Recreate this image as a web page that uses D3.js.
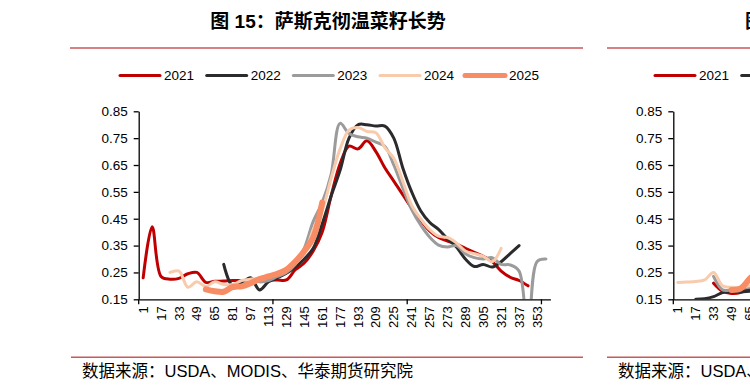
<!DOCTYPE html>
<html>
<head>
<meta charset="utf-8">
<script src="https://cdn.jsdelivr.net/npm/d3@7/dist/d3.min.js"></script>
<style>
  html, body { margin: 0; padding: 0; background: #fff; }
  svg { display: block; }
  text { font-family: "Liberation Sans", Arial, "Noto Sans CJK SC", sans-serif; fill: #000; }
  .cjk { font-family: "Liberation Sans", Arial, "Noto Sans CJK SC", sans-serif; }
</style>
</head>
<body>
<svg id="chart" width="750" height="390"></svg>
<script>
// ---------- data ----------
const days = [1,9,17,25,33,41,49,57,65,73,81,89,97,105,113,121,129,137,145,153,161,169,177,185,193,201,209,217,225,233,241,249,257,265,273,281,289,297,305,313,321,329,337,345,353,361];
const xTickLabels = [1,17,33,49,65,81,97,113,129,145,161,177,193,209,225,241,257,273,289,305,321,337,353];
const yTicks = [0.15,0.25,0.35,0.45,0.55,0.65,0.75,0.85];
const seriesNames = ["2021","2022","2023","2024","2025"];
const seriesColors = ["#C00000","#2B2B2E","#9B9B9B","#F8CBAD","#F88C64"];
const seriesWidths = [3,3,3,3,6];

const s2021 = [0.23,0.42,0.235,0.225,0.228,0.245,0.25,0.213,0.217,0.218,0.22,0.22,0.22,0.22,0.222,0.222,0.222,0.26,0.285,0.33,0.40,0.535,0.655,0.72,0.71,0.74,0.70,0.64,0.59,0.54,0.49,0.445,0.405,0.38,0.367,0.355,0.34,0.325,0.31,0.29,0.255,0.232,0.22,0.20,null,null];
const s2022 = [null,null,null,null,null,null,null,null,null,0.28,0.20,0.21,0.23,0.185,0.215,0.23,0.247,0.27,0.30,0.34,0.43,0.535,0.63,0.75,0.80,0.80,0.795,0.795,0.75,0.64,0.55,0.48,0.437,0.41,0.375,0.345,0.30,0.272,0.28,0.27,0.29,0.32,0.35,null,null,null];
const s2023 = [null,null,null,null,null,null,null,null,null,null,0.19,0.20,0.225,0.215,0.22,0.235,0.25,0.28,0.34,0.44,0.51,0.615,0.805,0.767,0.755,0.75,0.735,0.72,0.65,0.565,0.484,0.427,0.382,0.352,0.345,0.35,0.32,0.305,0.30,0.305,0.28,0.278,0.255,0.0,0.29,0.30];
const s2024 = [null,null,null,0.25,0.255,0.195,0.215,0.198,0.215,0.205,0.205,0.22,0.225,0.228,0.235,0.245,0.26,0.285,0.32,0.41,0.48,0.60,0.71,0.78,0.79,0.775,0.77,0.715,0.675,0.59,0.50,0.45,0.41,0.385,0.38,0.36,0.33,0.32,0.31,0.29,0.34,null,null,null,null,null];
const s2025 = [null,null,null,null,null,null,null,0.187,0.18,0.178,0.196,0.198,0.21,0.225,0.235,0.245,0.26,0.29,0.33,0.38,0.51,null,null,null,null,null,null,null,null,null,null,null,null,null,null,null,null,null,null,null,null,null,null,null,null,null];

// second (cropped) panel on the right, only its first categories are visible
const r2021 = [null,null,null,null,0.21,0.18,0.172,0.175,0.19,0.2];
const r2022 = [null,null,0.15,0.152,0.16,0.175,0.178,0.178,0.18,0.182];
const r2023 = [null,null,null,null,0.235,0.185,0.185,0.19,0.195,0.2];
const r2024 = [0.213,0.214,0.216,0.222,0.25,0.20,0.195,0.195,0.2,0.21];
const r2025 = [null,null,null,null,null,null,0.185,0.19,0.225,0.26];

// ---------- layout ----------
const svg = d3.select("#chart");
const plotTop = 111.3, plotBottom = 299.3;
const bandW = 8.95;

function drawPanel(x0, seriesList, legendX, clipId) {
  const x = d3.scaleBand().domain(days).range([x0, x0 + bandW * days.length]).paddingInner(0).paddingOuter(0);
  const y = d3.scaleLinear().domain([0.15, 0.85]).range([plotBottom, plotTop]);
  const g = svg.append("g");

  svg.append("clipPath").attr("id", clipId).append("rect")
    .attr("x", x0).attr("y", plotTop - 5).attr("width", bandW * days.length + 4).attr("height", plotBottom - plotTop + 5);

  // y axis
  const yAxis = d3.axisLeft(y).tickValues(yTicks).tickFormat(d3.format(".2f")).tickSize(5).tickSizeOuter(0);
  const ya = g.append("g").attr("transform", `translate(${x0},0)`).call(yAxis);
  ya.select(".domain").attr("stroke", "#000").attr("stroke-width", 1.3);
  ya.selectAll(".tick line").attr("stroke", "#000").attr("stroke-width", 1.3);
  ya.selectAll(".tick text").attr("x", -11).style("font-size", "13.5px").attr("fill", "#000");

  // lines
  const lg = g.append("g").attr("clip-path", `url(#${clipId})`);
  seriesList.forEach((vals, k) => {
    const pts = vals.map((v, i) => [days[i], v]);
    const line = d3.line()
      .defined(d => d[1] !== null)
      .x(d => x(d[0]) + x.bandwidth() / 2)
      .y(d => y(d[1]))
      .curve(d3.curveCatmullRom.alpha(0.5));
    lg.append("path").datum(pts).attr("d", line)
      .attr("fill", "none").attr("stroke", seriesColors[k])
      .attr("stroke-width", seriesWidths[k]).attr("stroke-linejoin", "round").attr("stroke-linecap", "round");
  });

  // x axis
  const xAxis = d3.axisBottom(x).tickValues(xTickLabels).tickSize(0).tickSizeOuter(0);
  const xa = g.append("g").attr("transform", `translate(0,${plotBottom})`).call(xAxis);
  xa.select(".domain").attr("stroke", "#000").attr("stroke-width", 1.3);
  xa.selectAll(".tick text")
    .attr("transform", "rotate(-90)")
    .attr("x", -7).attr("y", 0).attr("dy", "0.35em")
    .style("text-anchor", "end").style("font-size", "13px").attr("fill", "#000");
  const markIdx = [0, 15, 30, 45];
  xa.selectAll(".mark").data(markIdx).enter().append("line")
    .attr("x1", i => x(days[i])).attr("x2", i => x(days[i]))
    .attr("y1", 0).attr("y2", 5).attr("stroke", "#000").attr("stroke-width", 1.3);

  // legend
  const lgd = g.append("g");
  const legendStep = [0, 86.7, 173.3, 260, 345];
  seriesNames.forEach((n, k) => {
    const lx = legendX + legendStep[k];
    lgd.append("line").attr("x1", lx).attr("x2", lx + 40).attr("y1", 75.5).attr("y2", 75.5)
      .attr("stroke", seriesColors[k]).attr("stroke-width", seriesWidths[k] === 6 ? 5 : 3).attr("stroke-linecap", "round");
    lgd.append("text").attr("x", lx + 44).attr("y", 75.5).attr("dy", "0.36em")
      .style("font-size", "13.5px").text(n);
  });
}

// title + separators (left panel)
svg.append("text").attr("x", 328).attr("y", 21).attr("dy", "0.36em").attr("text-anchor", "middle")
  .style("font-size", "19px").style("font-weight", "bold").attr("class", "cjk")
  .text("图 15：萨斯克彻温菜籽长势");
svg.append("line").attr("x1", 70).attr("x2", 583).attr("y1", 48).attr("y2", 48).attr("stroke", "#C9595B").attr("stroke-width", 1.4);
svg.append("line").attr("x1", 71).attr("x2", 583).attr("y1", 357.3).attr("y2", 357.3).attr("stroke", "#C9595B").attr("stroke-width", 1.4);
svg.append("text").attr("x", 82).attr("y", 371).attr("dy", "0.36em").attr("class", "cjk")
  .style("font-size", "16.5px").text("数据来源：USDA、MODIS、华泰期货研究院");

// right (cropped) panel decorations
svg.append("text").attr("x", 745).attr("y", 21).attr("dy", "0.36em")
  .style("font-size", "19px").style("font-weight", "bold").attr("class", "cjk").text("图");
svg.append("line").attr("x1", 607).attr("x2", 750).attr("y1", 48).attr("y2", 48).attr("stroke", "#C9595B").attr("stroke-width", 1.4);
svg.append("line").attr("x1", 607).attr("x2", 750).attr("y1", 357.3).attr("y2", 357.3).attr("stroke", "#C9595B").attr("stroke-width", 1.4);
svg.append("text").attr("x", 618).attr("y", 371).attr("dy", "0.36em").attr("class", "cjk")
  .style("font-size", "16.5px").text("数据来源：USDA、MODIS、华泰期货研究院");

drawPanel(138.7, [s2021, s2022, s2023, s2024, s2025], 120, "clipL");
drawPanel(673.3, [r2021, r2022, r2023, r2024, r2025], 655, "clipR");
</script>
</body>
</html>
